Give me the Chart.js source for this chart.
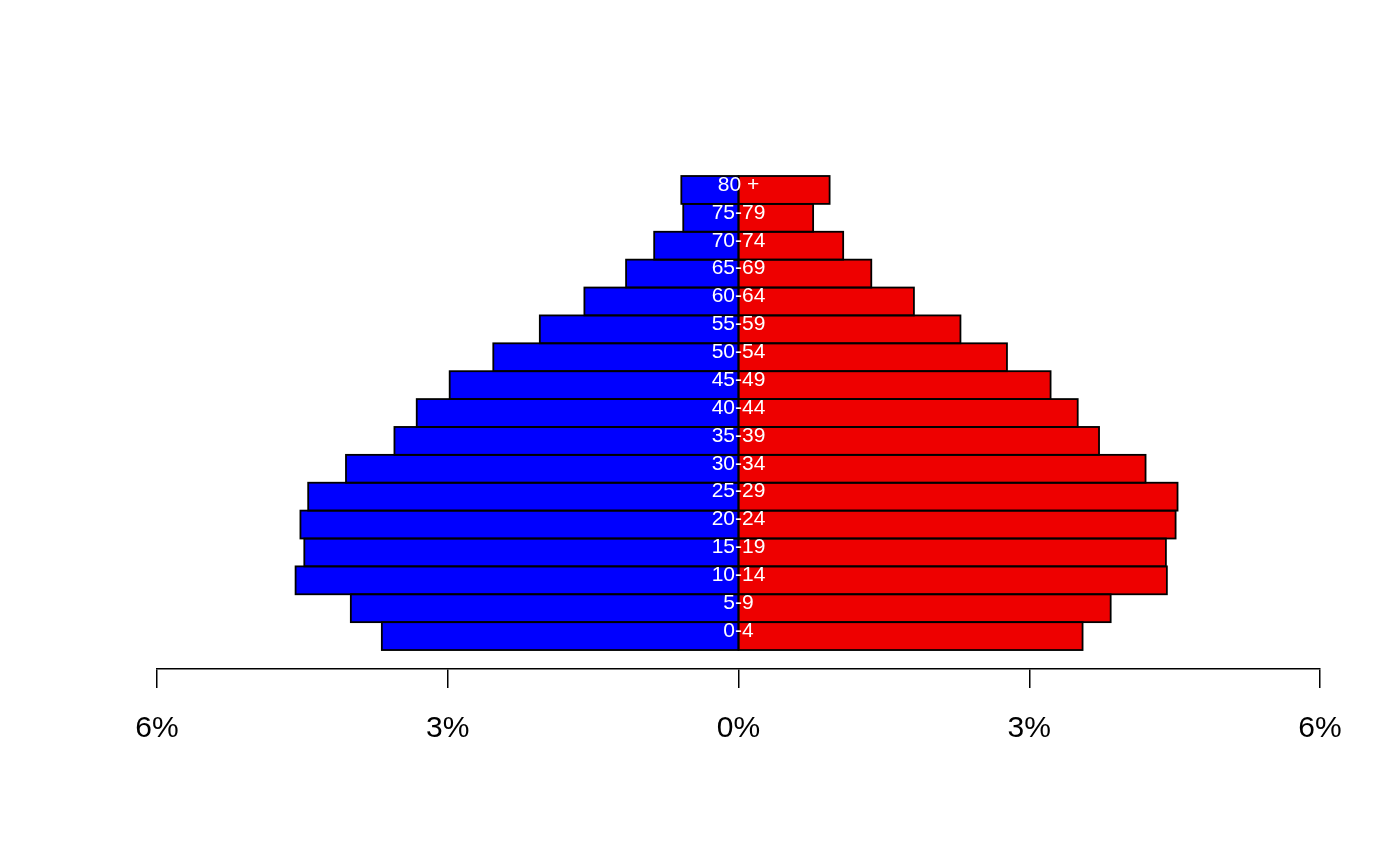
<!DOCTYPE html>
<html>
<head>
<meta charset="utf-8">
<script src="https://cdn.jsdelivr.net/npm/chart.js@4/dist/chart.umd.min.js"></script>
<style>
  html, body { margin: 0; padding: 0; background: #ffffff; }
  #wrap { width: 1400px; height: 865px; }
</style>
</head>
<body>
<div id="wrap"><canvas id="c" width="1400" height="865"></canvas></div>
<script>
const ageGroups = ["0-4","5-9","10-14","15-19","20-24","25-29","30-34","35-39","40-44","45-49","50-54","55-59","60-64","65-69","70-74","75-79","80 +"];
const maleShare = [3.68, 4.00, 4.57, 4.48, 4.52, 4.44, 4.05, 3.55, 3.32, 2.98, 2.53, 2.05, 1.59, 1.16, 0.87, 0.57, 0.59];
const femaleShare = [3.55, 3.84, 4.42, 4.41, 4.51, 4.53, 4.20, 3.72, 3.50, 3.22, 2.77, 2.29, 1.81, 1.37, 1.08, 0.77, 0.94];
const xTicks = [-6, -3, 0, 3, 6];

const FONT = "'Liberation Sans', Arial, Helvetica, sans-serif";

// Outlines each bar (R-style stroke centred on the edge) using the bar elements' own geometry,
// then writes the age-group labels down the centre line.
const outlineAndLabels = {
  id: 'outlineAndLabels',
  afterDatasetsDraw(chart) {
    const ctx = chart.ctx;
    const xs = chart.scales.x, ys = chart.scales.y;
    ctx.save();
    ctx.strokeStyle = '#000000';
    ctx.lineWidth = 1.8;
    chart.data.datasets.forEach((ds, di) => {
      const meta = chart.getDatasetMeta(di);
      meta.data.forEach(el => {
        const p = el.getProps(['x', 'y', 'base', 'height'], true);
        const left = Math.min(p.x, p.base), w = Math.abs(p.x - p.base);
        ctx.strokeRect(left, p.y - p.height / 2, w, p.height);
      });
    });
    ctx.fillStyle = '#ffffff';
    ctx.font = '21px ' + FONT;
    ctx.textAlign = 'center';
    ctx.textBaseline = 'middle';
    ageGroups.forEach((g, i) => {
      ctx.fillText(g, xs.getPixelForValue(0), ys.getPixelForValue(i) - 5);
    });
    ctx.restore();
  }
};

const barStyle = {
  borderWidth: 0,
  borderSkipped: false,
  barPercentage: 1,
  categoryPercentage: 1,
  inflateAmount: 0
};

new Chart(document.getElementById('c'), {
  type: 'bar',
  data: {
    datasets: [
      Object.assign({
        label: 'Male',
        data: maleShare.map((v, i) => ({ x: -v, y: i })),
        backgroundColor: '#0000FF'
      }, barStyle),
      Object.assign({
        label: 'Female',
        data: femaleShare.map((v, i) => ({ x: v, y: i })),
        backgroundColor: '#EE0000'
      }, barStyle)
    ]
  },
  options: {
    indexAxis: 'y',
    responsive: false,
    animation: false,
    events: [],
    layout: { padding: { left: 157, right: 80, top: 176, bottom: 95 } },
    plugins: { legend: { display: false }, tooltip: { enabled: false }, title: { display: false } },
    scales: {
      x: {
        type: 'linear',
        stacked: true,
        min: -6,
        max: 6,
        offset: false,
        display: false,
        grid: { display: false }
      },
      xAxis: {
        type: 'linear',
        axis: 'x',
        position: 'bottom',
        min: -6,
        max: 6,
        offset: false,
        afterBuildTicks(scale) { scale.ticks = xTicks.map(v => ({ value: v })); },
        ticks: {
          callback: (v) => Math.abs(v) + '%',
          color: '#000000',
          font: { family: FONT, size: 30 },
          padding: 23,
          maxRotation: 0
        },
        grid: { display: true, offset: false, drawOnChartArea: false, drawTicks: true, tickLength: 19, color: '#000000', lineWidth: 1.5 },
        border: { display: true, color: '#000000', width: 1.5 }
      },
      y: {
        type: 'linear',
        stacked: true,
        min: -1.18,
        max: 16.5,
        offset: false,
        display: false,
        afterBuildTicks(scale) { scale.ticks = ageGroups.map((g, i) => ({ value: i })); },
        grid: { display: false, offset: false }
      }
    }
  },
  plugins: [outlineAndLabels]
});
</script>
</body>
</html>
